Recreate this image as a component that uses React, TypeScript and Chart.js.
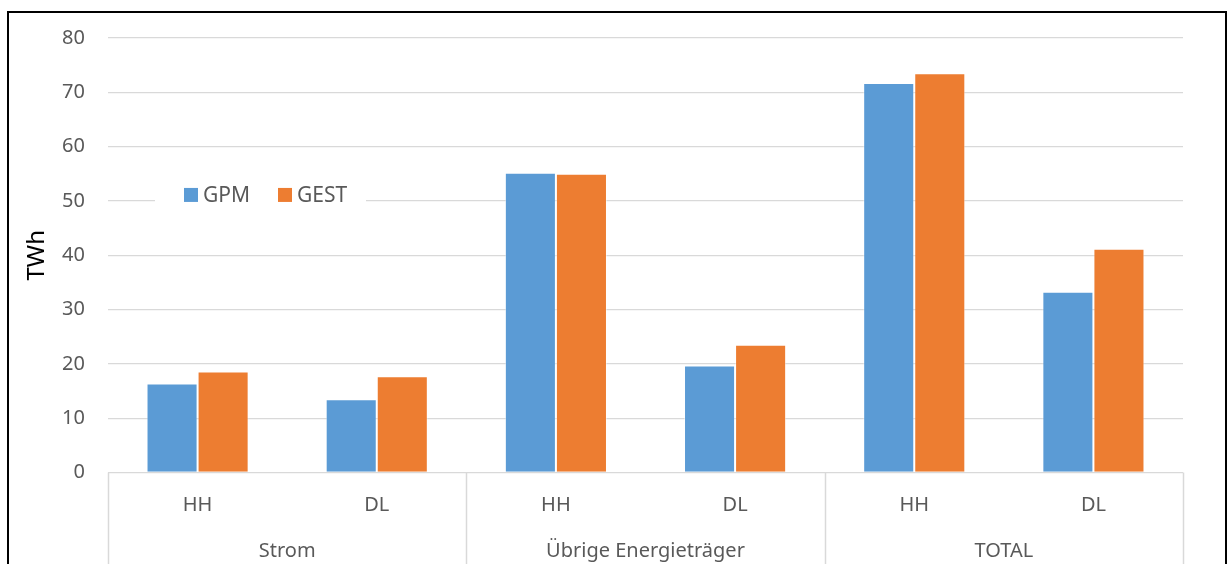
import React, { useEffect, useRef } from 'react';
import { Chart, registerables } from 'chart.js';

Chart.register(...registerables);

const categories = ['HH', 'DL', 'HH', 'DL', 'HH', 'DL'];
const groups = ['Strom', 'Übrige Energieträger', 'TOTAL'];
const gpmValues = [16.4, 13.5, 55.2, 19.7, 71.7, 33.3];
const gestValues = [18.6, 17.7, 55.0, 23.5, 73.5, 41.2];
const seriesNames = ['GPM', 'GEST'];
const yMin = 0;
const yMax = 80;
const yStep = 10;
const yTitle = 'TWh';

const FONT = "'Noto Sans', 'Open Sans', sans-serif";
const BLUE = '#5B9BD5';
const ORANGE = '#ED7D31';
const GRID = '#D9D9D9';
const TEXT = '#595959';

const groupSeparators = {
  id: 'groupSeparators',
  afterDraw(chart: any) {
    const { ctx, chartArea } = chart;
    const x = chart.scales.x;
    const n = categories.length;
    const per = n / groups.length;
    const xs: number[] = [chartArea.left];
    for (let g = 1; g < groups.length; g++) {
      const a = x.getPixelForValue(g * per - 1);
      const b = x.getPixelForValue(g * per);
      xs.push((a + b) / 2);
    }
    xs.push(chartArea.right);
    ctx.save();
    ctx.strokeStyle = GRID;
    ctx.lineWidth = 1.5;
    xs.forEach((px) => {
      const p = Math.round(px) + 0.5;
      ctx.beginPath();
      ctx.moveTo(p, chartArea.bottom);
      ctx.lineTo(p, chart.height);
      ctx.stroke();
    });
    ctx.restore();
  },
};

const insideLegend = {
  id: 'insideLegend',
  afterDraw(chart: any) {
    const { ctx, chartArea } = chart;
    const y = chart.scales.y;
    const cy = y.getPixelForValue(50) - 6;
    const left = chartArea.left + 47;
    ctx.save();
    ctx.fillStyle = '#ffffff';
    ctx.fillRect(left, cy - 12, 211, 24);
    ctx.font = `21px ${FONT}`;
    ctx.textBaseline = 'middle';
    let x = left + 29;
    chart.data.datasets.forEach((ds: any) => {
      ctx.fillStyle = ds.backgroundColor;
      ctx.fillRect(x, cy - 7, 14, 14);
      ctx.fillStyle = TEXT;
      ctx.fillText(ds.label, x + 19, cy + 1);
      x += 94;
    });
    ctx.restore();
  },
};

export default function App() {
  const ref = useRef<HTMLCanvasElement | null>(null);

  useEffect(() => {
    if (!ref.current) return;
    const chart = new Chart(ref.current, {
      type: 'bar',
      data: {
        labels: categories,
        datasets: [
          {
            label: seriesNames[0],
            data: gpmValues,
            backgroundColor: BLUE,
            borderColor: 'rgba(255,255,255,0.45)',
            borderWidth: 1,
            borderSkipped: 'start',
          },
          {
            label: seriesNames[1],
            data: gestValues,
            backgroundColor: ORANGE,
            borderColor: 'rgba(255,255,255,0.45)',
            borderWidth: 1,
            borderSkipped: 'start',
          },
        ],
      },
      options: {
        animation: false,
        responsive: true,
        maintainAspectRatio: false,
        layout: { padding: { top: 38, right: 44, left: 0, bottom: 0 } },
        datasets: { bar: { categoryPercentage: 0.57, barPercentage: 1 } },
        plugins: {
          legend: { display: false },
          tooltip: { enabled: false },
        },
        scales: {
          x: {
            type: 'category',
            position: 'bottom',
            weight: 0,
            offset: true,
            grid: { display: false, drawTicks: false },
            border: { display: false },
            ticks: {
              color: TEXT,
              font: { family: FONT, size: 20 },
              padding: 21,
              maxRotation: 0,
              autoSkip: false,
            },
            afterFit: (s: any) => {
              s.height = 45;
            },
          },
          x2: {
            type: 'category',
            position: 'bottom',
            weight: 1,
            labels: groups,
            offset: true,
            grid: { display: false, drawTicks: false },
            border: { display: false },
            ticks: {
              color: TEXT,
              font: { family: FONT, size: 20 },
              padding: 22,
              maxRotation: 0,
              autoSkip: false,
            },
            afterFit: (s: any) => {
              s.height = 46.5;
            },
          },
          y: {
            min: yMin,
            max: yMax,
            ticks: {
              stepSize: yStep,
              color: TEXT,
              font: { family: FONT, size: 20 },
              padding: 23,
            },
            grid: { color: GRID, lineWidth: 1.3, drawTicks: false },
            border: { display: false },
            title: {
              display: true,
              text: yTitle,
              color: '#000000',
              font: { family: FONT, size: 24 },
              padding: { top: 23, bottom: 0 },
            },
            afterFit: (s: any) => {
              s.width = 108;
            },
          },
        },
      },
      plugins: [groupSeparators, insideLegend],
    });
    return () => chart.destroy();
  }, []);

  return (
    <div
      style={{
        position: 'fixed',
        left: 0,
        top: 0,
        width: 1227,
        height: 564,
        background: '#ffffff',
        overflow: 'hidden',
      }}
    >
      <canvas ref={ref} />
      <div
        style={{
          position: 'absolute',
          left: 7,
          top: 11,
          width: 1220,
          height: 620,
          boxSizing: 'border-box',
          border: '2px solid #000',
          pointerEvents: 'none',
        }}
      />
    </div>
  );
}
